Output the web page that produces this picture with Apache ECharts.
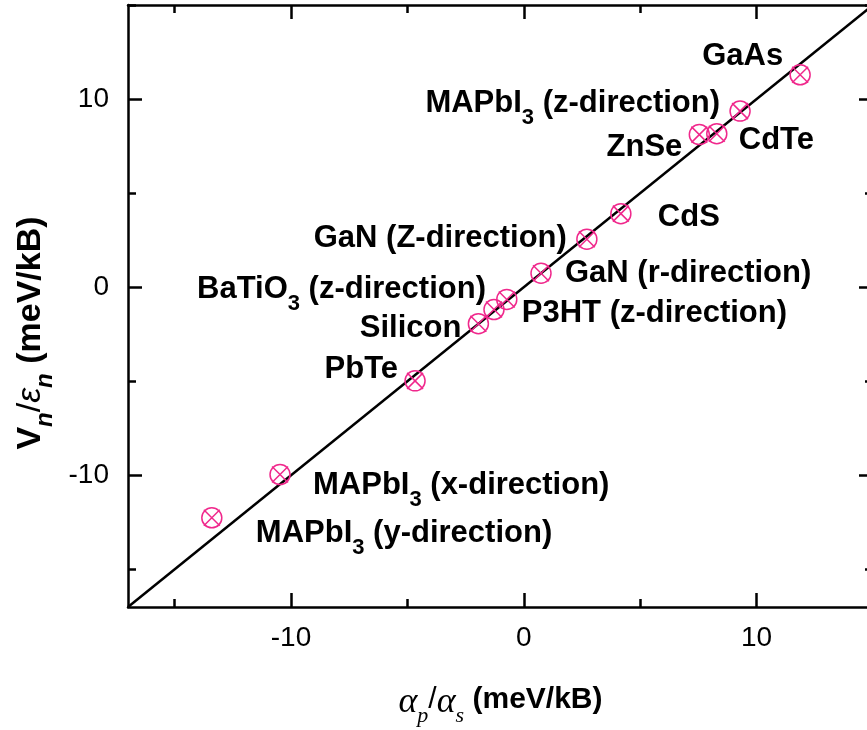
<!DOCTYPE html>
<html>
<head>
<meta charset="utf-8">
<script src="https://cdn.jsdelivr.net/npm/echarts@6/dist/echarts.min.js"></script>
<style>
html,body{margin:0;padding:0;background:#fff;}
#chart{width:867px;height:730px;}
</style>
</head>
<body>
<div id="chart"></div>
<script>
// ---- data ----
const materials = [
  'GaAs', 'MAPbI_3 (z-direction)', 'ZnSe', 'CdTe', 'CdS', 'GaN (Z-direction)',
  'GaN (r-direction)', 'P3HT (z-direction)', 'BaTiO_3 (z-direction)', 'Silicon',
  'PbTe', 'MAPbI_3 (x-direction)', 'MAPbI_3 (y-direction)'
];
const alphaRatio = [11.87, 9.29, 7.54, 8.29, 4.17, 2.71, 0.74, -0.73, -1.28, -1.95, -4.67, -10.47, -13.40];
const vOverEps   = [11.29, 9.36, 8.11, 8.16, 3.91, 2.55, 0.74, -0.65, -1.19, -1.94, -4.98, -9.96, -12.26];
const axisMin = -17, axisMax = 15;
const majorTicks = [-10, 0, 10];
const minorTicks = [-15, -5, 5, 15];
const tickLabels = ['-10', '0', '10'];
const diagonal = [[axisMin, axisMin], [axisMax, axisMax]];

// ---- label placement (layout only) ----
const labelPlace = [
  ['right', -17, -34], ['right', -20, -23], ['right', -17, -3], ['left', 22, -9],
  ['left', 37, -12], ['right', -20, -16], ['left', 24, -15], ['left', 15, -1],
  ['right', -8, -36], ['right', -17, -11], ['right', -17, -27], ['left', 33, -5],
  ['left', 44, 0]
];

const SANS = "'Liberation Sans', Arial, sans-serif";
const SERIF = "'Liberation Serif', 'Times New Roman', serif";
const MAG = '#f0288c';

function richName(s) {
  return s.split(/_(\d)/).map((p, i) => i % 2 ? '{s|' + p + '}' : (p ? '{t|' + p + '}' : '')).join('');
}

const labelRich = {
  t: { fontFamily: SANS, fontSize: 31, fontWeight: 'bold', color: '#000', lineHeight: 31, verticalAlign: 'top' },
  s: { fontFamily: SANS, fontSize: 22, fontWeight: 'bold', color: '#000', padding: [19, 0, 0, 0], verticalAlign: 'top' }
};

const scatterData = materials.map((m, i) => ({
  name: m,
  value: [alphaRatio[i], vOverEps[i]]
}));

const symbolPath = 'path://M0,10 A10,10 0 1,1 20,10 A10,10 0 1,1 0,10 Z M2,2 L18,18 M18,2 L2,18';

function makeAxis(kind, position, major, withLabel, extra) {
  const vals = major ? majorTicks : minorTicks;
  const ax = {
    type: 'value', position: position, min: axisMin, max: axisMax,
    axisLine: { show: major, onZero: false, lineStyle: { color: '#000', width: 2.5 } },
    axisTick: { show: true, inside: true, length: major ? 14 : 8, customValues: vals,
      lineStyle: { color: '#000', width: 2.5 } },
    axisLabel: { show: withLabel, customValues: majorTicks, color: '#000',
      fontFamily: SANS, fontSize: 28,
      margin: kind === 'x' ? 17 : 19,
      formatter: v => tickLabels[majorTicks.indexOf(v)] },
    splitLine: { show: false },
    minorTick: { show: false }
  };
  return Object.assign(ax, extra || {});
}

const xName = '{g|α}{gs|p}{sl|/}{g|α}{gs|s}{b| (meV/kB)}';
const yName = '{b|V}{ns|n}{sl|/}{e|ε}{ns|n}{b| (meV/kB)}';
const xRich = {
  b: { fontFamily: SANS, fontSize: 30, fontWeight: 'bold', color: '#000', lineHeight: 34, verticalAlign: 'top' },
  g: { fontFamily: SERIF, fontSize: 36, fontStyle: 'italic', color: '#000', lineHeight: 34, verticalAlign: 'top' },
  gs: { fontFamily: SERIF, fontSize: 22, fontStyle: 'italic', color: '#000', padding: [20, 0, 0, 0], verticalAlign: 'top' },
  sl: { fontFamily: SANS, fontSize: 30, color: '#000', lineHeight: 34, verticalAlign: 'top' }
};
const yRich = {
  b: { fontFamily: SANS, fontSize: 34, fontWeight: 'bold', color: '#000', lineHeight: 34, verticalAlign: 'top' },
  sl: { fontFamily: SANS, fontSize: 34, color: '#000', lineHeight: 34, verticalAlign: 'top' },
  e: { fontFamily: SANS, fontSize: 34, fontStyle: 'italic', color: '#000', lineHeight: 34, verticalAlign: 'top' },
  ns: { fontFamily: SANS, fontSize: 24, fontStyle: 'italic', fontWeight: 'bold', color: '#000', padding: [20, 0, 0, 0], verticalAlign: 'top' }
};

const option = {
  animation: false,
  backgroundColor: '#fff',
  grid: { left: 128, top: 5, width: 745, height: 602, containLabel: false, outerBoundsMode: 'none' },
  xAxis: [
    makeAxis('x', 'bottom', true, true, {
      name: xName, nameLocation: 'middle', nameGap: 78,
      nameTextStyle: { rich: xRich }
    }),
    makeAxis('x', 'bottom', false, false),
    makeAxis('x', 'top', true, false),
    makeAxis('x', 'top', false, false)
  ],
  yAxis: [
    makeAxis('y', 'left', true, true, {
      name: yName, nameLocation: 'middle', nameGap: 66, nameRotate: 90,
      nameTextStyle: { rich: yRich, padding: [0, 54, 0, 0] }
    }),
    makeAxis('y', 'left', false, false),
    makeAxis('y', 'right', true, false),
    makeAxis('y', 'right', false, false)
  ],
  series: [
    {
      type: 'line', data: diagonal, xAxisIndex: 0, yAxisIndex: 0,
      symbol: 'none', silent: true, z: 1,
      lineStyle: { color: '#000', width: 2.5 }
    },
    {
      type: 'scatter', data: scatterData, xAxisIndex: 0, yAxisIndex: 0, z: 3,
      symbol: symbolPath, symbolSize: 20,
      itemStyle: { color: 'rgba(0,0,0,0)', borderColor: MAG, borderWidth: 1.5, opacity: 1 },
      label: {
        show: true, position: 'inside', verticalAlign: 'top',
        formatter: p => richName(p.name), rich: labelRich
      },
      labelLayout: p => ({
        dx: labelPlace[p.dataIndex][1],
        dy: labelPlace[p.dataIndex][2],
        align: labelPlace[p.dataIndex][0],
        verticalAlign: 'top',
        hideOverlap: false
      })
    }
  ]
};

const chart = echarts.init(document.getElementById('chart'), null, { renderer: 'canvas' });
chart.setOption(option);
</script>
</body>
</html>
